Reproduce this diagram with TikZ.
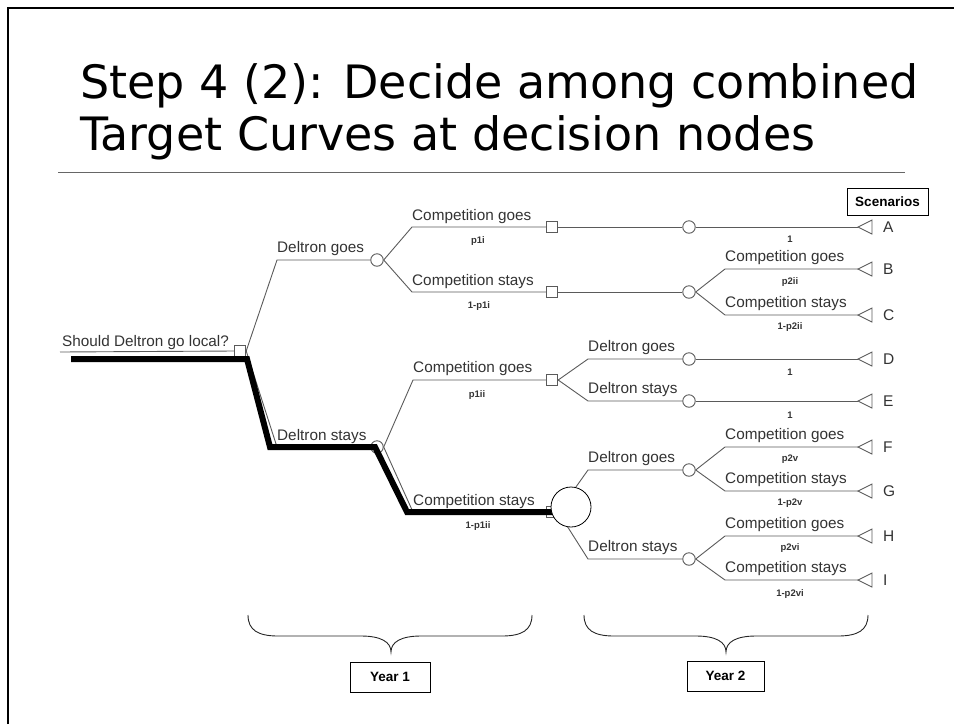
\documentclass[tikz,border=0pt]{standalone}
\usepackage{fontspec}
\setmainfont{Liberation Sans}
\newfontfamily\titlefont{DejaVu Sans}

\definecolor{linegray}{HTML}{5A5A5A}
\definecolor{textgray}{HTML}{333333}

\tikzset{
  treeline/.style={draw=linegray, line width=0.9pt},
  decbox/.style={rectangle, draw=linegray, fill=white, line width=0.9pt,
                 minimum size=11.5pt, inner sep=0pt},
  chance/.style={circle, draw=linegray, fill=white, line width=0.9pt,
                 minimum size=12.5pt, inner sep=0pt},
  branchlbl/.style={anchor=base west, inner sep=0pt, text=textgray,
                    font=\fontsize{15.3}{18}\selectfont},
  problbl/.style={inner sep=0pt, text=textgray,
                  font=\bfseries\fontsize{9.5}{11}\selectfont},
  endlbl/.style={anchor=west, inner sep=0pt, text=textgray,
                 font=\fontsize{15.5}{18}\selectfont},
  tagbox/.style={rectangle, draw=black, line width=0.8pt, fill=white,
                 inner sep=0pt, font=\bfseries\fontsize{13.5}{16}\selectfont},
  bestpath/.style={draw=black, line width=6pt},
  bracepath/.style={draw=black!85, line width=0.9pt},
}

\newcommand{\leaftri}[2]{%
  \coordinate (#1) at #2;
  \draw[treeline] (#1) -- ++(14,-7) -- ++(0,14) -- cycle;}

\begin{document}
\begin{tikzpicture}[x=1pt, y=-1pt]
\useasboundingbox (0,0) rectangle (954,724);

% slide frame and title
\draw[line width=2.5pt] (8,724) -- (8,8) -- (954,8);
\node[anchor=base west, inner sep=0pt, font=\titlefont\fontsize{46}{50}\selectfont]
  (title1) at (80,98) {Step 4 (2): Decide among combined};
\node[anchor=base west, inner sep=0pt, font=\titlefont\fontsize{46}{50}\selectfont]
  (title2) at (80,150) {Target Curves at decision nodes};
\draw[draw=black!60, line width=1pt] (58,172) -- (905,172);

% ---------- decision tree ----------
% root decision
\node[branchlbl] (qroot) at (62,346) {Should Deltron go local?};
\coordinate (rootstart) at (60,352);
\node[decbox] (root) at (240,351) {};
\draw[treeline] (rootstart) -- (root.west);

% year 1: Deltron's move
\coordinate (k1) at (277,260);
\coordinate (k2) at (277,447);
\node[chance] (n1) at (377,260) {};
\node[chance] (n2) at (377,447) {};
\draw[treeline] (root.east) -- (k1) -- (n1.west);
\draw[treeline] (root.east) -- (k2) -- (n2.west);
\node[branchlbl] at (277,252) {Deltron goes};
\node[branchlbl] at (277,440) {Deltron stays};

% year 1: competition's move
\coordinate (k3) at (412,227);
\coordinate (k4) at (412,292);
\coordinate (k5) at (413,380);
\coordinate (k6) at (413,512);
\node[decbox] (s1) at (552,227) {};
\node[decbox] (s2) at (552,292) {};
\node[decbox] (s3) at (552,380) {};
\node[decbox] (s4) at (552,512) {};
\draw[treeline] (n1.east) -- (k3) -- (s1.west);
\draw[treeline] (n1.east) -- (k4) -- (s2.west);
\draw[treeline] (n2.east) -- (k5) -- (s3.west);
\draw[treeline] (n2.east) -- (k6) -- (s4.west);
\node[branchlbl] at (412,220) {Competition goes};
\node[problbl] at (478,241) {p1i};
\node[branchlbl] at (412,285) {Competition stays};
\node[problbl] at (479,306) {1-p1i};
\node[branchlbl] at (413,372) {Competition goes};
\node[problbl] at (477,395) {p1ii};
\node[branchlbl] at (413,505) {Competition stays};
\node[problbl] at (478,526) {1-p1ii};

% year 2 nodes
\node[chance] (c1) at (689,227) {};
\node[chance] (c2) at (689,292) {};
\node[chance] (c3) at (689,359) {};
\node[chance] (c4) at (689,401) {};
\node[chance] (c5) at (689,470) {};
\node[chance] (c6) at (689,559) {};

% terminal triangles
\leaftri{tA}{(858,227)}
\leaftri{tB}{(858,269)}
\leaftri{tC}{(858,315)}
\leaftri{tD}{(858,359)}
\leaftri{tE}{(858,401)}
\leaftri{tF}{(858,447)}
\leaftri{tG}{(858,491)}
\leaftri{tH}{(858,536)}
\leaftri{tI}{(858,580)}

% scenario A
\draw[treeline] (s1.east) -- (c1.west);
\draw[treeline] (c1.east) -- (tA);
\node[problbl] at (790,239) {1};

% scenarios B, C
\coordinate (kB) at (725,269);
\coordinate (kC) at (725,315);
\draw[treeline] (s2.east) -- (c2.west);
\draw[treeline] (c2.east) -- (kB) -- (tB);
\draw[treeline] (c2.east) -- (kC) -- (tC);
\node[branchlbl] at (725,261) {Competition goes};
\node[problbl] at (790,282) {p2ii};
\node[branchlbl] at (725,307) {Competition stays};
\node[problbl] at (790,327) {1-p2ii};

% scenarios D, E
\coordinate (kD) at (588,359);
\coordinate (kE) at (588,401);
\draw[treeline] (s3.east) -- (kD) -- (c3.west);
\draw[treeline] (s3.east) -- (kE) -- (c4.west);
\draw[treeline] (c3.east) -- (tD);
\draw[treeline] (c4.east) -- (tE);
\node[branchlbl] at (588,351) {Deltron goes};
\node[problbl] at (790,372) {1};
\node[branchlbl] at (588,393) {Deltron stays};
\node[problbl] at (790,415) {1};

% scenarios F, G, H, I
\coordinate (kDg) at (588,470);
\coordinate (kDs) at (588,559);
\coordinate (kF) at (725,447);
\coordinate (kG) at (725,491);
\coordinate (kH) at (725,536);
\coordinate (kI) at (725,580);
\draw[treeline] (s4.east) -- (kDg) -- (c5.west);
\draw[treeline] (s4.east) -- (kDs) -- (c6.west);
\draw[treeline] (c5.east) -- (kF) -- (tF);
\draw[treeline] (c5.east) -- (kG) -- (tG);
\draw[treeline] (c6.east) -- (kH) -- (tH);
\draw[treeline] (c6.east) -- (kI) -- (tI);
\node[branchlbl] at (588,462) {Deltron goes};
\node[branchlbl] at (588,551) {Deltron stays};
\node[branchlbl] at (725,439) {Competition goes};
\node[problbl] at (790,459) {p2v};
\node[branchlbl] at (725,483) {Competition stays};
\node[problbl] at (790,503) {1-p2v};
\node[branchlbl] at (725,528) {Competition goes};
\node[problbl] at (790,548) {p2vi};
\node[branchlbl] at (725,572) {Competition stays};
\node[problbl] at (790,594) {1-p2vi};

% scenario letters
\foreach \s/\y in {A/227,B/269,C/315,D/359,E/401,F/447,G/491,H/536,I/580}
  \node[endlbl] (L\s) at (883,\y) {\s};

\node[tagbox, minimum width=81pt, minimum height=27pt] (scen) at (887.5,201.5) {Scenarios};

% highlighted strategy path
\coordinate (p0) at (71,359);
\coordinate (p1) at (247,359);
\coordinate (p2) at (270,447);
\coordinate (p3) at (375,447);
\coordinate (p4) at (407,512);
\coordinate (p5) at (552,512);
\draw[bestpath] (p0) -- (p1) -- (p2) -- (p3) -- (p4) -- (p5);

% combined decision node
\node[circle, draw=black, fill=white, line width=0.8pt, minimum size=40pt, inner sep=0pt]
  (big) at (571,507) {};

% year braces
\draw[bracepath] (248,615) .. controls (248,630) and (258,636) .. (278,636) -- (361,636)
  .. controls (381,636) and (391,642) .. (391,652)
  .. controls (391,642) and (401,636) .. (421,636) -- (502,636)
  .. controls (522,636) and (532,630) .. (532,615);
\draw[bracepath] (584,615) .. controls (584,630) and (594,636) .. (614,636) -- (696,636)
  .. controls (716,636) and (726,642) .. (726,652)
  .. controls (726,642) and (736,636) .. (756,636) -- (838,636)
  .. controls (858,636) and (868,630) .. (868,615);

\node[tagbox, minimum width=80pt, minimum height=30pt] (year1) at (390,677) {Year 1};
\node[tagbox, minimum width=77pt, minimum height=30pt] (year2) at (725.5,676) {Year 2};
\end{tikzpicture}
\end{document}
